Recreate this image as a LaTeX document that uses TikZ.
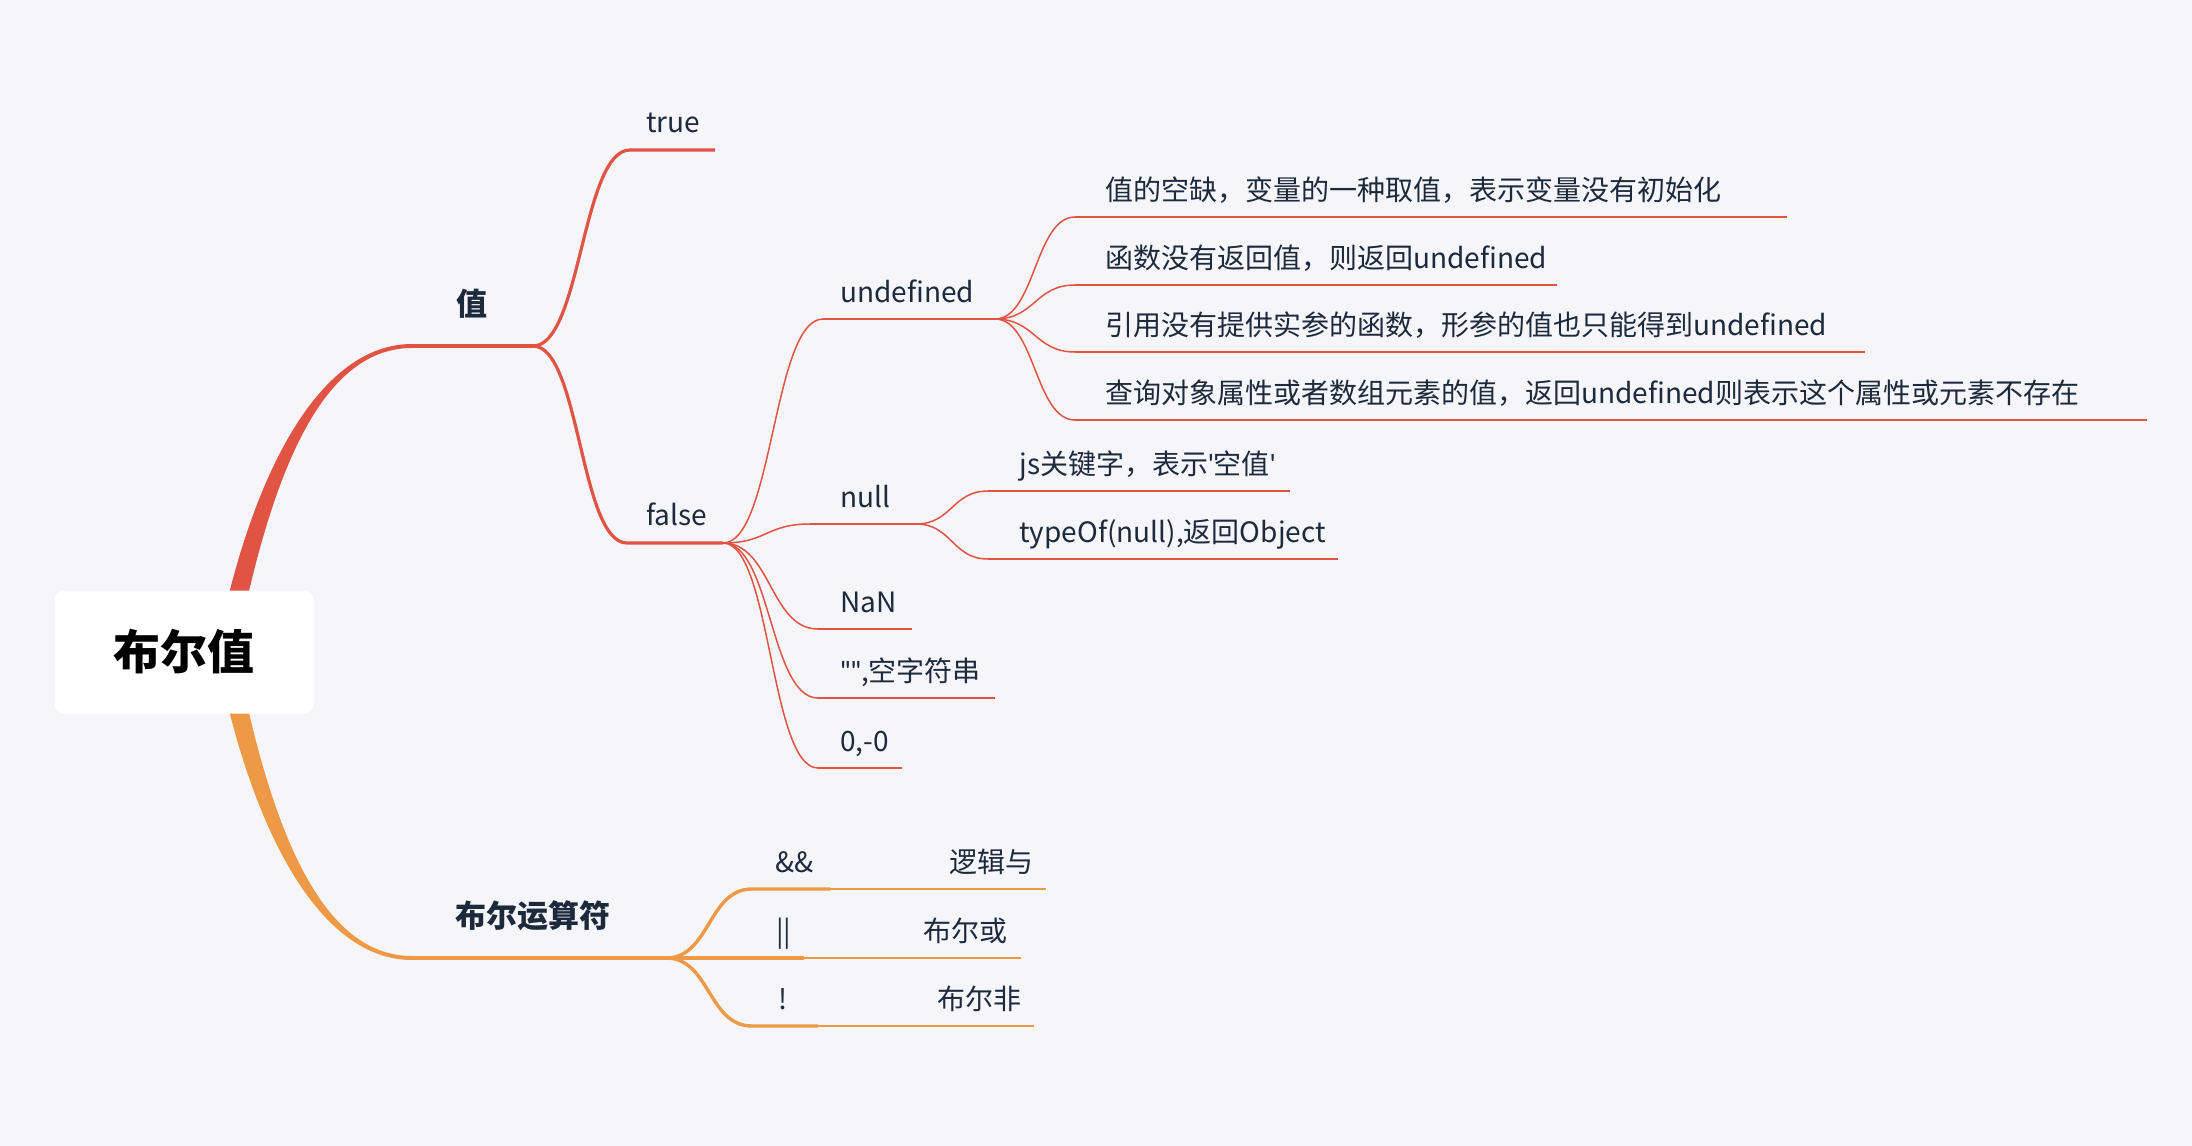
\documentclass[tikz,border=0pt]{standalone}
\usepackage{fontspec}
\setmainfont{Noto Sans CJK SC}
\newfontfamily\latn{Lato}
\definecolor{bgc}{HTML}{F5F5FA}
\definecolor{vred}{HTML}{E15343}
\definecolor{opor}{HTML}{EE9945}
\definecolor{ink}{HTML}{1C2A3C}

\begin{document}
\begin{tikzpicture}[
    x=0.5pt,
    y=-0.5pt,
    lbl/.style={font=\fontsize{14}{16}\selectfont, text=ink, inner sep=0pt, anchor=base west},
    lbone/.style={lbl, font=\fontsize{15.5}{18}\selectfont\bfseries},
    rootbox/.style={fill=white, rounded corners=5pt, minimum width=129.5pt, minimum height=61.5pt, inner sep=0pt, font=\fontsize{23.5}{26}\selectfont\bfseries},
    lvtwo/.style={vred, line width=1.6pt},
    lvthree/.style={vred, line width=1pt},
    thinred/.style={vred, line width=0.75pt},
    opthick/.style={opor, line width=1.7pt},
    opthin/.style={opor, line width=0.85pt}
]
\useasboundingbox (0,0) rectangle (2192,1146);
\fill[bgc] (0,0) rectangle (2192,1146);

\coordinate (hub) at (184,652);
\coordinate (val-s) at (412,346);
\coordinate (val-e) at (533,346);
\coordinate (ops-s) at (412,958);
\coordinate (ops-e) at (666,958);

\fill[vred] ([xshift=16pt]hub) .. controls +(35,-180) and +(-92,0) .. ([yshift=1pt]val-s)
    -- ([yshift=-1pt]val-s) .. controls +(-90,0) and +(35,-180) .. ([xshift=26pt]hub) -- cycle;
\fill[opor] ([xshift=16pt]hub) .. controls +(35,180) and +(-92,0) .. ([yshift=-1pt]ops-s)
    -- ([yshift=1pt]ops-s) .. controls +(-90,0) and +(35,180) .. ([xshift=26pt]hub) -- cycle;
\draw[vred, line width=2pt] (val-s) -- (val-e);
\draw[opor, line width=2pt] (ops-s) -- (ops-e);

\node[rootbox] (root) at (hub) {布尔值};
\node[lbone] (val) at (456,315) {值};
\node[lbone] (ops) at (455,927) {布尔运算符};

\coordinate (tru-s) at (630,150);
\coordinate (tru-e) at (715,150);
\coordinate (fal-s) at (627,543);
\coordinate (fal-e) at (723,543);
\draw[lvtwo] (val-e) .. controls +(48,0) and +(-48,0) .. (tru-s) -- (tru-e);
\draw[lvtwo] (val-e) .. controls +(47,0) and +(-47,0) .. (fal-s) -- (fal-e);
\node[lbl] (tru) at (646,132) {true};
\node[lbl] (fal) at (646,525) {false};

\coordinate (und-s) at (823,319);
\coordinate (und-e) at (995,319);
\coordinate (nul-s) at (810,524);
\coordinate (nul-e) at (916,524);
\coordinate (nan-s) at (818,629);
\coordinate (nan-e) at (912,629);
\coordinate (emp-s) at (818,698);
\coordinate (emp-e) at (995,698);
\coordinate (zer-s) at (818,768);
\coordinate (zer-e) at (902,768);
\draw[thinred] (fal-e) .. controls +(50,0) and +(-50,0) .. (und-s);
\draw[thinred] (fal-e) .. controls +(44,0) and +(-44,0) .. (nul-s);
\draw[thinred] (fal-e) .. controls +(48,0) and +(-48,0) .. (nan-s);
\draw[thinred] (fal-e) .. controls +(48,0) and +(-48,0) .. (emp-s);
\draw[thinred] (fal-e) .. controls +(48,0) and +(-48,0) .. (zer-s);
\draw[lvthree] (und-s) -- (und-e);
\draw[lvthree] (nul-s) -- (nul-e);
\draw[lvthree] (nan-s) -- (nan-e);
\draw[lvthree] (emp-s) -- (emp-e);
\draw[lvthree] (zer-s) -- (zer-e);
\node[lbl] (und) at (840,302) {undefined};
\node[lbl] (nul) at (840,507) {null};
\node[lbl] (nan) at (840,612) {NaN};
\node[lbl] (emp) at (840,681) {{\latn ""},空字符串};
\node[lbl] (zer) at (840,751) {0,-0};

\coordinate (ua-s) at (1075,217);
\coordinate (ua-e) at (1787,217);
\coordinate (ub-s) at (1075,285);
\coordinate (ub-e) at (1557,285);
\coordinate (uc-s) at (1075,352);
\coordinate (uc-e) at (1865,352);
\coordinate (ud-s) at (1075,420);
\coordinate (ud-e) at (2147,420);
\draw[thinred] (und-e) .. controls +(40,0) and +(-40,0) .. (ua-s);
\draw[thinred] (und-e) .. controls +(40,0) and +(-40,0) .. (ub-s);
\draw[thinred] (und-e) .. controls +(40,0) and +(-40,0) .. (uc-s);
\draw[thinred] (und-e) .. controls +(40,0) and +(-40,0) .. (ud-s);
\draw[lvthree] (ua-s) -- (ua-e);
\draw[lvthree] (ub-s) -- (ub-e);
\draw[lvthree] (uc-s) -- (uc-e);
\draw[lvthree] (ud-s) -- (ud-e);
\node[lbl] (ua) at (1105,200) {值的空缺，变量的一种取值，表示变量没有初始化};
\node[lbl] (ub) at (1105,268) {函数没有返回值，则返回undefined};
\node[lbl] (uc) at (1105,335) {引用没有提供实参的函数，形参的值也只能得到undefined};
\node[lbl] (ud) at (1105,403) {查询对象属性或者数组元素的值，返回undefined则表示这个属性或元素不存在};

\coordinate (na-s) at (988,491);
\coordinate (na-e) at (1290,491);
\coordinate (nb-s) at (988,559);
\coordinate (nb-e) at (1338,559);
\draw[thinred] (nul-e) .. controls +(36,0) and +(-36,0) .. (na-s);
\draw[thinred] (nul-e) .. controls +(36,0) and +(-36,0) .. (nb-s);
\draw[lvthree] (na-s) -- (na-e);
\draw[lvthree] (nb-s) -- (nb-e);
\node[lbl] (na) at (1019,474) {js关键字，表示{\latn '}空值{\latn '}};
\node[lbl] (nb) at (1019,542) {typeOf(null),返回Object};

\coordinate (and-s) at (752,889);
\coordinate (and-m) at (830,889);
\coordinate (and-e) at (1046,889);
\coordinate (or-m) at (804,958);
\coordinate (or-e) at (1021,958);
\coordinate (not-s) at (752,1026);
\coordinate (not-m) at (818,1026);
\coordinate (not-e) at (1034,1026);
\draw[opthick] (ops-e) .. controls +(44,0) and +(-44,0) .. (and-s) -- (and-m);
\draw[opthick] (ops-e) -- (or-m);
\draw[opthick] (ops-e) .. controls +(44,0) and +(-44,0) .. (not-s) -- (not-m);
\draw[opthin] (and-m) -- (and-e);
\draw[opthin] (or-m) -- (or-e);
\draw[opthin] (not-m) -- (not-e);
\node[lbl] (and) at (775,872) {\&\&};
\node[lbl] (andx) at (949,872) {逻辑与};
\node[lbl] (or) at (776,941) {||};
\node[lbl] (orx) at (923,941) {布尔或};
\node[lbl] (not) at (778,1009) {!};
\node[lbl] (notx) at (937,1009) {布尔非};
\end{tikzpicture}
\end{document}
